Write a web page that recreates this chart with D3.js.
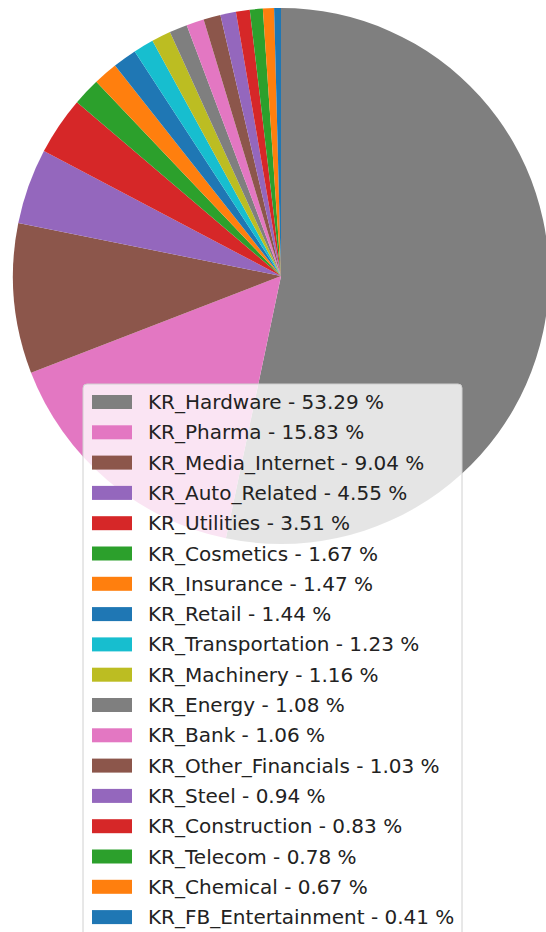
<!DOCTYPE html>
<html lang="en">
<head>
    <meta charset="UTF-8">
    <title>KR sector pie</title>
    <script src="https://d3js.org/d3.v7.min.js"></script>
    <style>
        body { margin: 0; background: #fff; overflow: hidden; }
        .legend text {
            font: 20px "DejaVu Sans", sans-serif;
            fill: #222;
        }
    </style>
</head>
<body>
    <script>
        const sectors = ["KR_Hardware", "KR_Pharma", "KR_Media_Internet", "KR_Auto_Related",
            "KR_Utilities", "KR_Cosmetics", "KR_Insurance", "KR_Retail", "KR_Transportation",
            "KR_Machinery", "KR_Energy", "KR_Bank", "KR_Other_Financials", "KR_Steel",
            "KR_Construction", "KR_Telecom", "KR_Chemical", "KR_FB_Entertainment"];
        const weights = [53.29, 15.83, 9.04, 4.55, 3.51, 1.67, 1.47, 1.44, 1.23,
            1.16, 1.08, 1.06, 1.03, 0.94, 0.83, 0.78, 0.67, 0.41];
        const colors = ["#7f7f7f", "#e377c2", "#8c564b", "#9467bd", "#d62728", "#2ca02c",
            "#ff7f0e", "#1f77b4", "#17becf", "#bcbd22", "#7f7f7f", "#e377c2", "#8c564b",
            "#9467bd", "#d62728", "#2ca02c", "#ff7f0e", "#1f77b4"];

        const width = 546, height = 932;
        const cx = 281, cy = 276, radius = 268;

        const data = sectors.map((s, i) => ({ name: s, value: weights[i] }));

        const svg = d3.select("body").append("svg")
            .attr("width", width)
            .attr("height", height);

        const color = d3.scaleOrdinal().domain(sectors).range(colors);

        const pie = d3.pie().value(d => d.value).sort(null);
        const arc = d3.arc().innerRadius(0).outerRadius(radius);

        svg.append("g")
            .attr("transform", `translate(${cx},${cy})`)
          .selectAll("path")
            .data(pie(data))
          .enter().append("path")
            .attr("d", arc)
            .attr("fill", d => color(d.data.name));

        // legend
        const lx = 83, ly = 384, rowH = 30.3;
        const legend = svg.append("g").attr("class", "legend");

        legend.append("rect")
            .attr("x", lx)
            .attr("y", ly)
            .attr("width", 379)
            .attr("height", 40 + rowH * data.length)
            .attr("rx", 4)
            .attr("fill", "rgba(255,255,255,0.8)")
            .attr("stroke", "#d0d0d0")
            .attr("stroke-width", 1);

        const row = legend.selectAll(".row")
            .data(data)
          .enter().append("g")
            .attr("class", "row")
            .attr("transform", (d, i) => `translate(${lx},${ly + 18 + i * rowH})`);

        row.append("rect")
            .attr("x", 9)
            .attr("y", -7)
            .attr("width", 40)
            .attr("height", 14)
            .attr("fill", d => color(d.name));

        row.append("text")
            .attr("x", 65)
            .attr("dy", "0.35em")
            .text(d => `${d.name} - ${d.value.toFixed(2)} %`);
    </script>
</body>
</html>
